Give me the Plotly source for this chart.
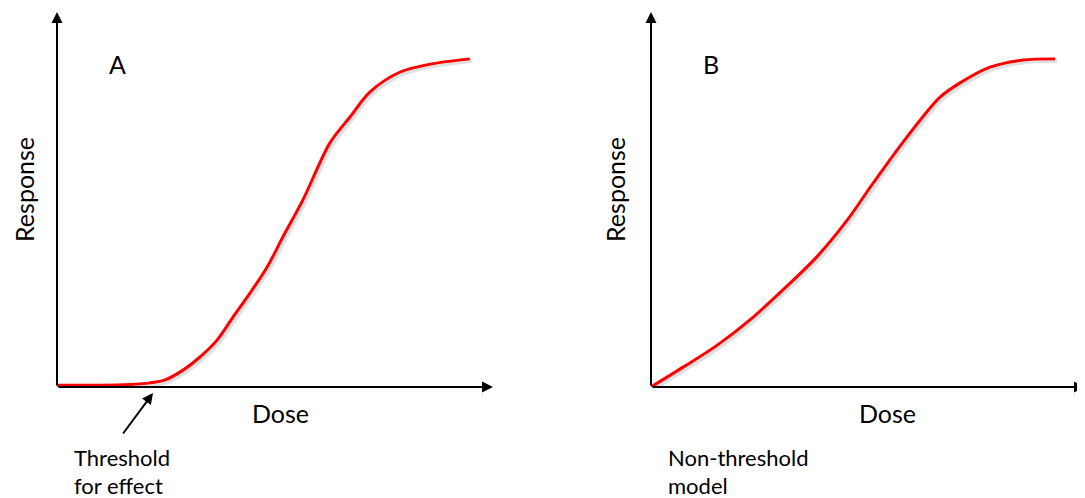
import plotly.graph_objects as go

# Panel A: threshold model (dose 0-10, response 0-100)
dose_a = [0, 0.99, 1.67, 2.13, 2.48, 2.89, 3.28, 3.67, 4.04, 4.43, 4.82, 5.18, 5.64, 6.26, 6.72, 7.18, 7.87, 8.56, 9.47]
resp_a = [0.5, 0.5, 0.7, 1.1, 1.9, 4.5, 8.0, 12.5, 18.7, 25.1, 32.0, 40.0, 49.9, 65.1, 72.0, 78.7, 84.0, 86.1, 87.5]

# Panel B: non-threshold model
dose_b = [0, 0.74, 1.52, 2.28, 3.04, 3.82, 4.52, 5.12, 5.90, 6.66, 7.12, 7.81, 8.57, 9.31]
resp_b = [0, 5.3, 11.1, 17.9, 25.9, 34.7, 44.5, 54.4, 66.7, 77.3, 81.1, 85.3, 87.2, 87.5]

panel_labels = ["A", "B"]
x_title = "Dose"
y_title = "Response"
notes_a = ["Threshold", "for effect"]
notes_b = ["Non-threshold", "model"]

PAGE_W, PAGE_H = 1085, 498
OFF = 8  # default page body margin
W, H = PAGE_W - OFF, PAGE_H - OFF
FONT = "Lato"
RED = "#ff0000"

fig = go.Figure()

for xs, ys, xa, ya in [(dose_a, resp_a, "x", "y"), (dose_b, resp_b, "x2", "y2")]:
    # soft shadow
    fig.add_trace(go.Scatter(x=[v + 0.05 for v in xs], y=[v - 0.6 for v in ys], xaxis=xa, yaxis=ya,
                             mode="lines", line=dict(color="rgba(0,0,0,0.12)", width=4, shape="spline", smoothing=0.9),
                             hoverinfo="skip", showlegend=False))
    fig.add_trace(go.Scatter(x=xs, y=ys, xaxis=xa, yaxis=ya, mode="lines",
                             line=dict(color=RED, width=3, shape="spline", smoothing=0.9),
                             showlegend=False))

def px(x):
    return (x - OFF) / W

def py(y):
    return 1 - (y - OFF) / H

y_dom = [py(387), py(12)]
axis_common = dict(range=[0, 10], showgrid=False, zeroline=False, showticklabels=False, ticks="", showline=False)
yaxis_common = dict(range=[0, 100], showgrid=False, zeroline=False, showticklabels=False, ticks="", showline=False)

fig.update_layout(
    width=W, height=H,
    margin=dict(l=0, r=0, t=0, b=0),
    paper_bgcolor="white", plot_bgcolor="white",
    xaxis=dict(domain=[px(57), px(493)], anchor="y", **axis_common),
    yaxis=dict(domain=y_dom, anchor="x", **yaxis_common),
    xaxis2=dict(domain=[px(651), min(1.0, px(1085))], anchor="y2", **axis_common),
    yaxis2=dict(domain=y_dom, anchor="x2", **yaxis_common),
    font=dict(family=FONT, color="black"),
)

ann = []
for xr, yr in [("x", "y"), ("x2", "y2")]:
    # axis arrows
    for (tx, ty) in [(0, 100), (10, 0)]:
        ann.append(dict(x=tx, y=ty, xref=xr, yref=yr, ax=0, ay=0, axref=xr, ayref=yr,
                        showarrow=True, arrowhead=2, arrowsize=1.1, arrowwidth=2, arrowcolor="black", text=""))

# panel letters
for i, (xr, yr) in enumerate([("x", "y"), ("x2", "y2")]):
    ann.append(dict(x=1.38, y=86.1, xref=xr, yref=yr, text=panel_labels[i], showarrow=False,
                    xanchor="center", yanchor="middle", font=dict(size=25, family=FONT)))

# axis titles
for cx in [280, 887]:
    ann.append(dict(x=px(cx), y=py(413), xref="paper", yref="paper", text=x_title, showarrow=False,
                    xanchor="center", yanchor="middle", font=dict(size=25, family=FONT)))
for cx in [24, 615]:
    ann.append(dict(x=px(cx), y=py(190), xref="paper", yref="paper", text=y_title, showarrow=False,
                    borderpad=0, xanchor="center", yanchor="middle", textangle=-90,
                    font=dict(size=25, family=FONT)))

# notes
for i, t in enumerate(notes_a):
    ann.append(dict(x=px(72), y=py(457 + 28 * i), xref="paper", yref="paper", text=t, showarrow=False,
                    xanchor="left", yanchor="middle", font=dict(size=22, family=FONT)))
for i, t in enumerate(notes_b):
    ann.append(dict(x=px(666), y=py(457 + 28 * i), xref="paper", yref="paper", text=t, showarrow=False,
                    xanchor="left", yanchor="middle", font=dict(size=22, family=FONT)))

# threshold arrow
ann.append(dict(x=px(153), y=py(393), xref="paper", yref="paper", ax=-31, ay=42,
                axref="pixel", ayref="pixel", showarrow=True, arrowhead=2, arrowsize=1.1,
                arrowwidth=2, arrowcolor="black", text=""))

fig.update_layout(annotations=ann)
fig.write_html("out.html")
